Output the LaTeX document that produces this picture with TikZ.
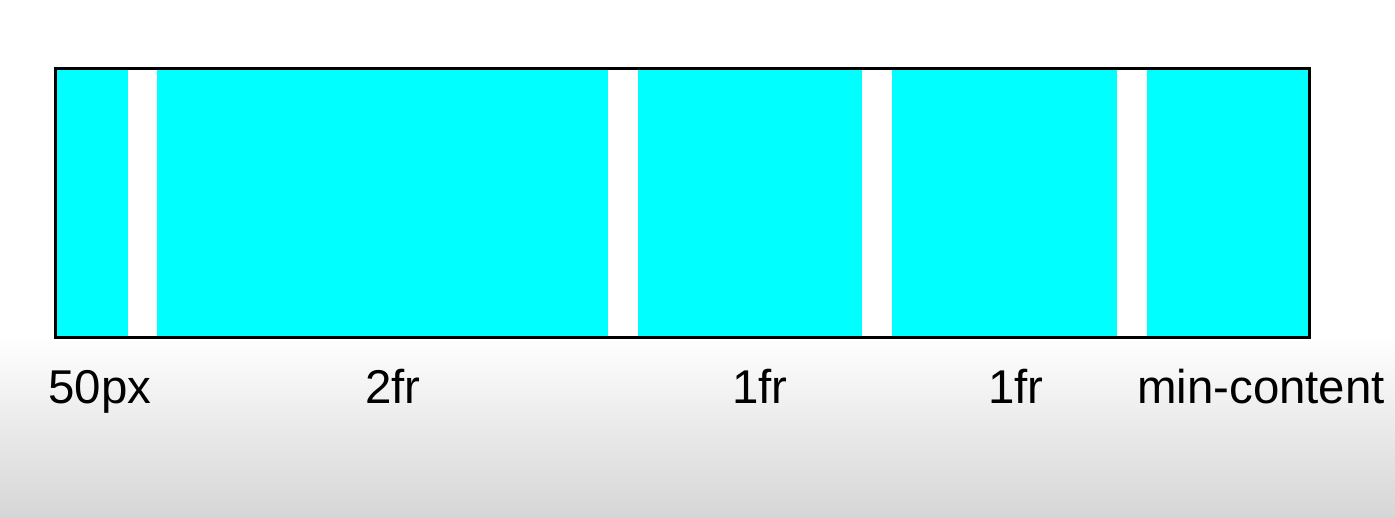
\documentclass[tikz,border=0pt]{standalone}
\usepackage{fontspec}
\setmainfont{Liberation Sans}
\usetikzlibrary{positioning}
\definecolor{trackcyan}{RGB}{0,255,255}
\definecolor{bgbottom}{RGB}{214,214,214}

\begin{document}
\begin{tikzpicture}[
    x=0.02cm, y=-0.02cm,
    track/.style={fill=trackcyan, draw=none},
    gridframe/.style={draw=black, line width=0.06cm},
    tracklabel/.style={font=\fontsize{27}{32}\selectfont, anchor=base, inner sep=0pt},
]

    % page background
    \fill[white] (0,0) rectangle (1395,517);
    \shade[top color=white, bottom color=bgbottom] (0,335) rectangle (1395,517);
    \useasboundingbox (0,0) rectangle (1395,517);

    % grid tracks
    \foreach \a/\b in {55/128, 157/608, 638/862, 892/1117, 1147/1310}
        \fill[track] (\a,68) rectangle (\b,338);
    \draw[gridframe] (55.5,68.5) rectangle (1309.5,337.5);

    % track sizes
    \node (px) [tracklabel] at (100,403) {50px};
    \node (frtwo) [tracklabel] at (393,403) {2fr};
    \node (frone) [tracklabel] at (760,403) {1fr};
    \node (fronebis) [tracklabel] at (1016,403) {1fr};
    \node (mincont) [tracklabel] at (1261,403) {min-content};

\end{tikzpicture}
\end{document}
